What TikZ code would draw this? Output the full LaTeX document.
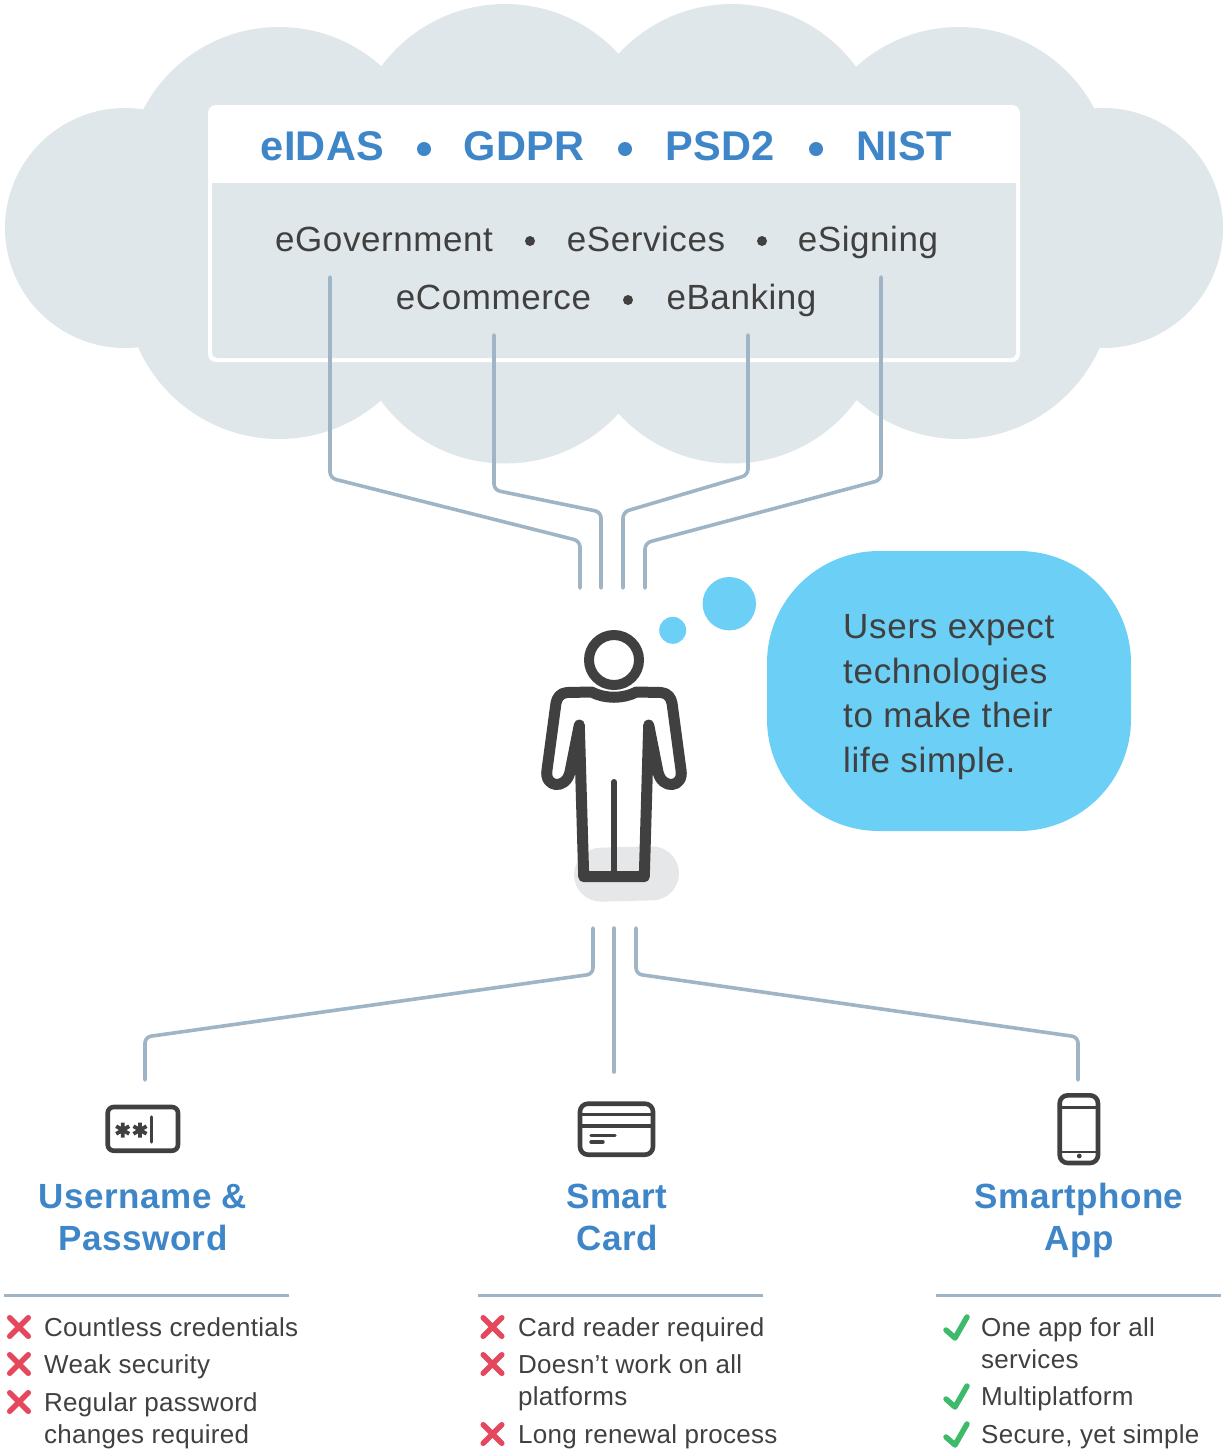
\documentclass[tikz,border=0pt]{standalone}
\usepackage{fontspec}
\setmainfont{Liberation Sans}
\newfontfamily\headfont{Liberation Sans}
\definecolor{cloudc}{HTML}{E0E7EA}
\definecolor{linec}{HTML}{9FB5C5}
\definecolor{inkc}{HTML}{404040}
\definecolor{bluec}{HTML}{3F86C8}
\definecolor{skyc}{HTML}{6CCFF6}
\definecolor{redc}{HTML}{E5485D}
\definecolor{greenc}{HTML}{3DBA6A}
\definecolor{shadowc}{HTML}{E6E7E9}
\tikzset{
  wire/.style={draw=linec,line width=3.6pt,line cap=round,line join=round,rounded corners=6pt},
  sepline/.style={draw=linec,line width=3pt},
  iconline/.style={draw=inkc,line width=4.6pt,line join=round,line cap=round},
  titletxt/.style={anchor=base,text=bluec,inner sep=0pt,font=\headfont\fontsize{41.5}{42}\selectfont\bfseries\addfontfeature{LetterSpace=1}},
  apptxt/.style={anchor=base,text=inkc,inner sep=0pt,font=\fontsize{35}{35}\selectfont\addfontfeature{LetterSpace=1.6}},
  headtxt/.style={anchor=base,text=bluec,inner sep=0pt,font=\headfont\fontsize{35}{35}\selectfont\bfseries\addfontfeature{LetterSpace=1.5}},
  listtxt/.style={anchor=base west,text=inkc,inner sep=0pt,font=\fontsize{26}{26}\selectfont\addfontfeature{LetterSpace=1.1}},
  saytxt/.style={anchor=base west,text=inkc,inner sep=0pt,font=\fontsize{35}{35}\selectfont\addfontfeature{LetterSpace=2}},
  crossmark/.pic={\draw[redc,line width=5.5pt,line cap=round] (-9.3,-9.3)--(9.3,9.3) (-9.3,9.3)--(9.3,-9.3);},
  tickmark/.pic={\draw[greenc,line width=5.5pt,line cap=round,line join=round] (-10,3)--(-1,11)--(11,-10);},
}
\begin{document}
\begin{tikzpicture}[x=1pt,y=-1pt]
\useasboundingbox (0,0) rectangle (1225,1452);
% cloud
\foreach \cx/\cy/\cr in {125/228/120,1103/228/120,279/180/153,959/180/153,505/158/154,732/158/154,279/285/154,959/285/154,505/309.5/154,732/309.5/154}{
  \fill[cloudc] (\cx,\cy) circle[radius=\cr];
}
\fill[cloudc] (150,110) rectangle (1085,345);
% panel
\fill[white,rounded corners=8pt] (208,105) rectangle (1020,362);
\fill[cloudc] (212,183) -- (1016,183) [rounded corners=5pt] -- (1016,358) -- (212,358) [sharp corners] -- cycle;
% titles
\node[titletxt] (t1) at (322.5,160) {eIDAS};
\node[titletxt] (t2) at (524,160) {GDPR};
\node[titletxt] (t3) at (720,160) {PSD2};
\node[titletxt] (t4) at (904,160) {NIST};
\fill[bluec] (424,149) circle[radius=7] (625,149) circle[radius=7] (816,149) circle[radius=7];
% applications
\node[apptxt] (a1) at (384,251) {eGovernment};
\node[apptxt] (a2) at (646,251) {eServices};
\node[apptxt] (a3) at (868,251) {eSigning};
\node[apptxt] (a4) at (493.5,309) {eCommerce};
\node[apptxt] (a5) at (741.5,309) {eBanking};
\fill[inkc] (530,241) circle[radius=5] (762,241) circle[radius=5] (628,300) circle[radius=5];
% upper wires
\coordinate (ua0) at (330,277); \coordinate (ua1) at (330,478); \coordinate (ua2) at (580,541); \coordinate (ua3) at (580,588);
\coordinate (ub0) at (494,335); \coordinate (ub1) at (494,490); \coordinate (ub2) at (601,512); \coordinate (ub3) at (601,588);
\coordinate (uc0) at (748,335); \coordinate (uc1) at (748,475); \coordinate (uc2) at (623,512); \coordinate (uc3) at (623,588);
\coordinate (ud0) at (881,277); \coordinate (ud1) at (881,480); \coordinate (ud2) at (645,543); \coordinate (ud3) at (645,588);
\draw[wire] (ua0)--(ua1)--(ua2)--(ua3);
\draw[wire] (ub0)--(ub1)--(ub2)--(ub3);
\draw[wire] (uc0)--(uc1)--(uc2)--(uc3);
\draw[wire] (ud0)--(ud1)--(ud2)--(ud3);
% thought bubbles
\fill[skyc] (672.7,630.3) circle[radius=13.5] (729.3,603.7) circle[radius=26.7];
\fill[skyc,rounded corners=112pt] (767,551) rectangle (1131,831);
\node[saytxt] (s1) at (843,638) {Users expect};
\node[saytxt] (s2) at (843,683) {technologies};
\node[saytxt] (s3) at (843,727) {to make their};
\node[saytxt] (s4) at (843,772) {life simple.};
% person
\fill[shadowc,rotate around={1.5:(626.5,874)},rounded corners=27pt] (574,847) rectangle (679,901);
\draw[inkc,line width=10pt] (614,660) circle[radius=25];
\draw[inkc,line width=11pt,line join=round,line cap=round]
  (591.5,692) .. controls (605,699) and (623,699) .. (636.5,692)
  -- (661,692.5) .. controls (668,693) and (671,698) .. (672,703)
  -- (681,770) .. controls (684,788) and (662,790) .. (658,772)
  -- (648.7,725) -- (644.3,876.7) -- (583.7,876.7) -- (579.3,725)
  -- (570,772) .. controls (566,790) and (544,788) .. (547,770)
  -- (556,703) .. controls (557,698) and (560,693) .. (567,692.5) -- cycle;
\draw[inkc,line width=6pt,line cap=round] (614,782) -- (614,876);
% lower wires
\coordinate (la0) at (593,928); \coordinate (la1) at (593,974); \coordinate (la2) at (145,1037); \coordinate (la3) at (145,1080);
\coordinate (lb0) at (614,928); \coordinate (lb3) at (614,1072);
\coordinate (lc0) at (636,928); \coordinate (lc1) at (636,974); \coordinate (lc2) at (1078,1037); \coordinate (lc3) at (1078,1080);
\draw[wire] (la0)--(la1)--(la2)--(la3);
\draw[wire] (lb0)--(lb3);
\draw[wire] (lc0)--(lc1)--(lc2)--(lc3);
% password icon
\draw[iconline,rounded corners=6pt] (107.7,1107) rectangle (178,1150.7);
\foreach \cx in {122.7,140}{
  \draw[inkc,line width=3.8pt] (\cx,1122.5)--(\cx,1137.5)
    (\cx-6.5,1126.2)--(\cx+6.5,1133.8) (\cx-6.5,1133.8)--(\cx+6.5,1126.2);
}
\draw[inkc,line width=3.4pt,line cap=round] (151.7,1117)--(151.7,1142);
% card icon
\draw[iconline,rounded corners=8pt] (580,1103.7) rectangle (653,1154.7);
\draw[inkc,line width=2.5pt] (580,1114.3)--(653,1114.3);
\draw[inkc,line width=3.8pt] (580,1125.7)--(653,1125.7);
\draw[inkc,line width=3.4pt,line cap=round] (591,1135.7)--(615,1135.7) (591,1142)--(603,1142);
% phone icon
\draw[iconline,rounded corners=8pt] (1059.7,1095.3) rectangle (1098,1163);
\draw[inkc,line width=3.4pt] (1059.7,1107.7)--(1098,1107.7);
\draw[inkc,line width=2.4pt] (1059.7,1151.7)--(1098,1151.7);
\fill[inkc] (1079.3,1156) circle[radius=2.4];
% headings
\node[headtxt] (h1) at (143,1208.5) {Username \&};
\node[headtxt] (h2) at (143,1250.5) {Password};
\node[headtxt] (h3) at (617,1208.5) {Smart};
\node[headtxt] (h4) at (617,1250.5) {Card};
\node[headtxt] (h5) at (1079,1208.5) {Smartphone};
\node[headtxt] (h6) at (1079,1250.5) {App};
% separators
\coordinate (p1) at (4,1295); \coordinate (p2) at (289,1295);
\coordinate (p3) at (478,1295); \coordinate (p4) at (763,1295);
\coordinate (p5) at (936,1295); \coordinate (p6) at (1221,1295);
\draw[sepline] (p1)--(p2); \draw[sepline] (p3)--(p4); \draw[sepline] (p5)--(p6);
% lists
\pic at (19,1327) {crossmark}; \pic at (19,1364) {crossmark}; \pic at (19,1402) {crossmark};
\node[listtxt] (l1) at (44,1336) {Countless credentials};
\node[listtxt] (l2) at (44,1373) {Weak security};
\node[listtxt] (l3) at (44,1411) {Regular password};
\node[listtxt] (l4) at (44,1443) {changes required};
\pic at (492.5,1327) {crossmark}; \pic at (492.5,1364) {crossmark}; \pic at (492.5,1434) {crossmark};
\node[listtxt] (m1) at (518,1336) {Card reader required};
\node[listtxt] (m2) at (518,1373) {Doesn’t work on all};
\node[listtxt] (m3) at (518,1405) {platforms};
\node[listtxt] (m4) at (518,1443) {Long renewal process};
\pic at (956,1327) {tickmark}; \pic at (956,1396) {tickmark}; \pic at (956,1434) {tickmark};
\node[listtxt] (r1) at (981,1336) {One app for all};
\node[listtxt] (r2) at (981,1368) {services};
\node[listtxt] (r3) at (981,1405) {Multiplatform};
\node[listtxt] (r4) at (981,1443) {Secure, yet simple};
\end{tikzpicture}
\end{document}
